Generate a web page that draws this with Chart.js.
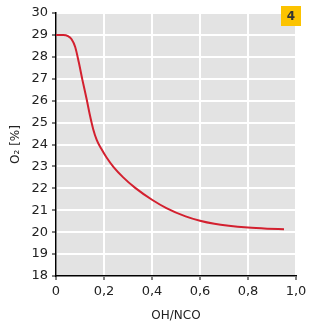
<!DOCTYPE html>
<html><head><meta charset="utf-8">
<script src="https://cdn.jsdelivr.net/npm/chart.js@4/dist/chart.umd.min.js"></script>
<style>html,body{margin:0;padding:0;background:#fff}#wrap{width:323px;height:335px}</style>
</head><body><div id="wrap"><canvas id="c" width="323" height="335"></canvas></div>
<script>
const ohNco = [0, 0.03, 0.05, 0.065, 0.08, 0.095, 0.11, 0.128, 0.14, 0.155, 0.17, 0.19, 0.21, 0.24, 0.28, 0.33, 0.4, 0.46, 0.54, 0.6, 0.66, 0.72, 0.8, 0.88, 0.95];
const o2 = [29.0, 29.0, 28.95, 28.8, 28.45, 27.75, 26.95, 26.05, 25.4, 24.7, 24.2, 23.78, 23.42, 22.97, 22.5, 22.02, 21.48, 21.1, 20.72, 20.52, 20.38, 20.29, 20.21, 20.16, 20.13];
const xTickLabels = ['0', '0,2', '0,4', '0,6', '0,8', '1,0'];
const yTickLabels = ['18','19','20','21','22','23','24','25','26','27','28','29','30'];
const badgeText = '4';
const font = 'DejaVu Sans';

const bgPlugin = {
  id: 'bg',
  beforeDraw(chart) {
    const {ctx, chartArea: a} = chart;
    ctx.save();
    ctx.fillStyle = '#e3e3e3';
    ctx.fillRect(a.left, a.top, a.right - a.left, a.bottom - a.top);
    ctx.restore();
  },
  afterDraw(chart) {
    const {ctx} = chart;
    ctx.save();
    ctx.fillStyle = '#fcc300';
    ctx.fillRect(281, 6, 20, 20);
    ctx.fillStyle = '#333';
    ctx.font = 'bold 12px ' + font;
    ctx.textAlign = 'center';
    ctx.textBaseline = 'middle';
    ctx.fillText(badgeText, 291, 16.5);
    ctx.restore();
  }
};

new Chart(document.getElementById('c'), {
  type: 'line',
  data: {
    datasets: [{
      data: ohNco.map((x, i) => ({x, y: o2[i]})),
      borderColor: '#d3202f',
      borderWidth: 2,
      pointRadius: 0,
      cubicInterpolationMode: 'monotone',
      fill: false
    }]
  },
  options: {
    responsive: false,
    animation: false,
    layout: {padding: {top: 13, right: 27, left: 0, bottom: 0}},
    plugins: {legend: {display: false}, tooltip: {enabled: false}},
    scales: {
      x: {
        type: 'linear', min: 0, max: 1,
        afterFit(s) { s.height = 59; },
        ticks: {stepSize: 0.2, color: '#222', padding: 4, font: {family: font, size: 13},
          callback: (v, i) => xTickLabels[i]},
        grid: {color: '#fff', lineWidth: 2, tickColor: '#000', tickLength: 4, tickWidth: 1},
        border: {color: '#000', width: 1.5},
        title: {display: true, text: 'OH/NCO', color: '#222', font: {family: font, size: 12}, padding: {top: 4, bottom: 12}}
      },
      y: {
        min: 18, max: 30,
        afterFit(s) { s.width = 56; },
        ticks: {stepSize: 1, color: '#222', padding: 4, font: {family: font, size: 13},
          callback: (v, i) => yTickLabels[i]},
        grid: {color: '#fff', lineWidth: 2, tickColor: '#000', tickLength: 4, tickWidth: 1},
        border: {color: '#000', width: 1.5},
        title: {display: true, text: 'O₂ [%]', color: '#222', font: {family: font, size: 12}, padding: {top: 9, bottom: 0}}
      }
    }
  },
  plugins: [bgPlugin]
});
</script></body></html>
